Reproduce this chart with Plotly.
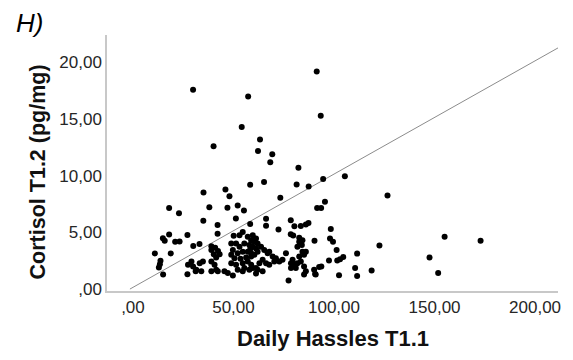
import plotly.graph_objects as go

# Daily Hassles T1.1 (x) and Cortisol T1.2 (y)
hassles = [29.9, 91.4, 57.3, 93.4, 54.1, 63.2, 40.1, 62.2, 69.3, 68.3,
           82.3, 58.3, 65.2, 81.4, 87.4, 94.6, 105.4, 35.1, 46.0, 48.0,
           73.3, 126.6, 95.5, 91.6, 93.6, 18.0, 22.9, 38.0, 47.0, 52.1,
           55.2, 35.0, 51.2, 66.2, 78.5, 42.1, 58.3, 66.2, 72.4, 80.3,
           83.5, 86.0, 87.3, 98.4, 14.9, 15.8, 18.0, 21.0, 23.2, 27.1,
           42.1, 50.1, 53.0, 54.6, 57.1, 58.8, 59.6, 61.2, 78.5, 79.7,
           82.7, 84.3, 90.3, 98.0, 99.5, 10.9, 18.8, 30.0, 33.1, 39.0,
           39.0, 40.9, 42.3, 40.2, 43.1, 41.4, 48.9, 51.3, 53.0, 55.4,
           57.9, 59.6, 49.7, 52.1, 54.6, 57.1, 58.8, 56.3, 53.5, 50.5,
           48.9, 60.4, 62.0, 58.4, 61.2, 63.7, 58.8, 60.4, 62.0, 65.3,
           67.0, 67.8, 69.5, 71.1, 70.3, 72.8, 74.4, 76.1, 81.8, 82.7,
           84.0, 84.3, 86.0, 85.1, 82.7, 101.3, 111.5, 122.6, 155.0, 172.9,
           147.5, 151.8, 97.5, 101.6, 103.0, 104.6, 92.6, 93.7, 90.6, 102.5,
           110.5, 111.5, 118.7, 13.7, 13.4, 12.9, 15.0, 27.1, 29.1, 27.4,
           29.9, 31.5, 33.2, 34.8, 34.0, 31.2, 39.0, 40.6, 41.4, 39.0,
           42.2, 45.5, 47.2, 49.7, 48.9, 51.3, 54.6, 57.1, 58.8, 55.4,
           52.1, 54.6, 57.9, 59.6, 64.5, 62.9, 61.2, 64.5, 62.0, 66.2,
           67.8, 79.4, 78.6, 80.2, 81.8, 83.5, 81.0, 78.6, 85.1, 77.4,
           86.0, 85.1, 90.1, 90.9, 61.2]

cortisol = [17.6, 19.2, 17.0, 15.3, 14.3, 13.2, 12.6, 12.2, 11.9, 11.2,
            10.7, 9.2, 9.45, 9.24, 9.06, 9.71, 9.97, 8.52, 8.8, 8.19,
            8.07, 8.26, 7.7, 7.15, 7.15, 7.16, 6.7, 7.22, 7.17, 7.37,
            6.94, 6.04, 6.24, 6.2, 6.07, 5.65, 5.74, 5.59, 5.26, 5.54,
            5.57, 5.7, 5.83, 5.3, 4.48, 4.26, 4.81, 4.17, 4.21, 4.78,
            4.89, 4.7, 4.76, 5.04, 4.61, 4.32, 4.76, 4.46, 4.83, 4.74,
            4.52, 4.3, 4.26, 4.46, 4.17, 3.15, 3.15, 3.81, 3.97, 3.78,
            3.45, 3.65, 3.37, 3.07, 3.07, 2.78, 4.03, 4.03, 3.74, 4.03,
            3.89, 3.74, 3.45, 3.16, 3.3, 3.3, 2.87, 2.78, 2.67, 2.72,
            3.02, 4.17, 4.03, 3.57, 3.59, 3.74, 3.16, 3.02, 3.3, 3.45,
            3.16, 3.3, 2.87, 2.72, 2.43, 2.43, 2.58, 3.16, 3.74, 4.17,
            3.89, 3.3, 3.3, 3.02, 2.87, 3.45, 3.13, 3.85, 4.63, 4.26,
            2.78, 1.42, 2.52, 2.52, 2.63, 2.84, 1.94, 2.0, 1.33, 1.22,
            1.85, 1.16, 1.65, 2.5, 2.2, 1.91, 1.28, 1.3, 2.43, 2.15,
            2.0, 1.71, 2.29, 2.43, 1.57, 1.57, 2.43, 2.15, 1.71, 1.57,
            1.57, 1.57, 1.42, 1.19, 2.29, 2.15, 2.29, 2.43, 2.15, 1.85,
            1.71, 1.57, 1.71, 1.85, 2.58, 2.29, 1.85, 1.57, 1.71, 2.29,
            2.15, 2.58, 2.29, 2.15, 2.29, 2.43, 1.85, 1.85, 2.0, 0.76,
            1.57, 1.28, 1.71, 1.28, 1.37]

# reference line
line_x = [-1.5, 211.4]
line_intercept = 0.15
line_slope = 0.1
line_y = [line_intercept + line_slope * v for v in line_x]

x_tickvals = [0, 50, 100, 150, 200]
x_ticktext = [",00", "50,00", "100,00", "150,00", "200,00"]
y_tickvals = [0, 5, 10, 15, 20]
y_ticktext = [",00", "5,00", "10,00", "15,00", "20,00"]

fig = go.Figure()
fig.add_trace(go.Scatter(x=line_x, y=line_y, mode="lines",
                         line=dict(color="#8c8c8c", width=1), hoverinfo="skip"))
fig.add_trace(go.Scatter(x=hassles, y=cortisol, mode="markers",
                         marker=dict(color="black", size=6, line=dict(width=0))))

fig.update_layout(
    width=573, height=360,
    margin=dict(l=107, r=13, t=35, b=69),
    paper_bgcolor="white", plot_bgcolor="white",
    showlegend=False,
    font=dict(family="Liberation Sans, Arial, sans-serif", color="#262626"),
)
fig.update_xaxes(range=[-12.9, 211.4], showgrid=False, zeroline=False,
                 showline=True, linecolor="#c8c8c8", linewidth=2,
                 tickvals=x_tickvals, ticktext=x_ticktext,
                 ticks="", tickfont=dict(size=17, color="#262626"))
fig.update_yaxes(range=[-0.17, 22.43], showgrid=False, zeroline=False,
                 showline=True, linecolor="#c8c8c8", linewidth=1.5,
                 tickvals=y_tickvals, ticktext=y_ticktext,
                 ticks="", tickfont=dict(size=17, color="#262626"))

fig.add_annotation(text="<b>Daily Hassles T1.1</b>", xref="paper", yref="paper",
                   x=0.5, y=-0.184, xanchor="center", yanchor="middle",
                   showarrow=False, font=dict(size=22, color="#111"))
fig.add_annotation(text="<b>Cortisol T1.2 (pg/mg)</b>", xref="paper", yref="paper",
                   x=-0.152, y=0.465, xanchor="center", yanchor="middle", textangle=-90,
                   showarrow=False, font=dict(size=21.5, color="#111"))
fig.add_annotation(text="<i>H)</i>", xref="paper", yref="paper",
                   x=-0.207, y=1.045, xanchor="left", yanchor="middle",
                   showarrow=False, font=dict(size=26, color="black"))

fig.write_html("out.html")
